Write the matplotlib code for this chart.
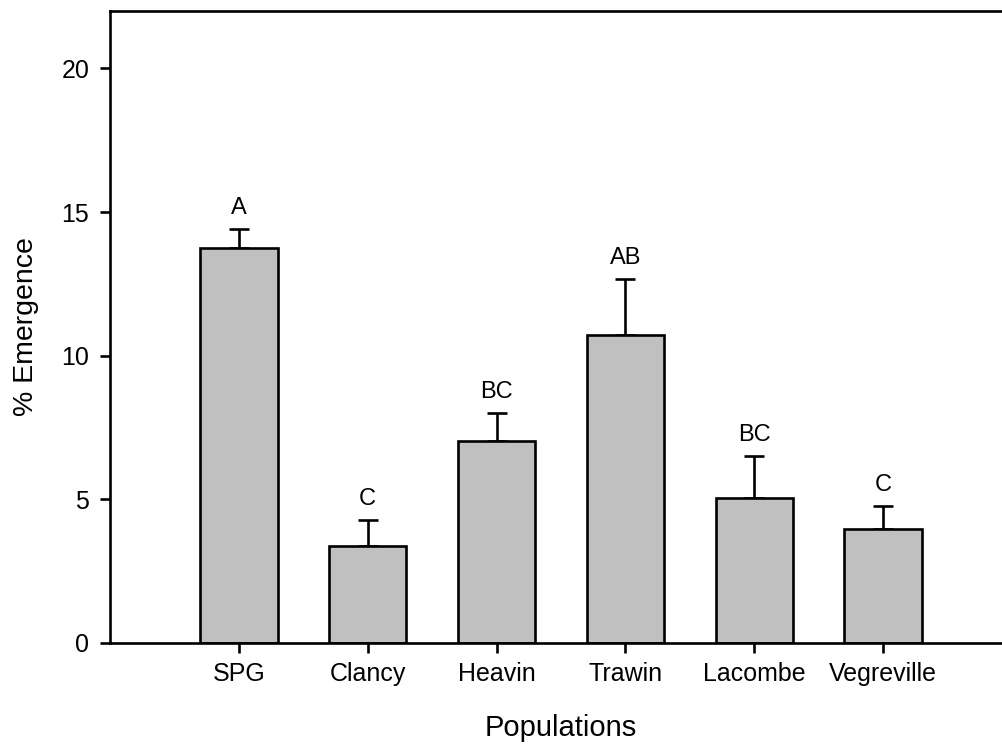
import matplotlib
matplotlib.use("Agg")
import matplotlib.pyplot as plt
import numpy as np

plt.rcParams["font.family"] = ["Liberation Sans", "DejaVu Sans"]

# mean % emergence per population with upper standard error
populations = ["SPG", "Clancy", "Heavin", "Trawin", "Lacombe", "Vegreville"]
emergence = [13.75, 3.38, 7.03, 10.72, 5.05, 3.97]
std_err = [0.66, 0.90, 0.97, 1.95, 1.46, 0.80]
groups = ["A", "C", "BC", "AB", "BC", "C"]

fig = plt.figure(figsize=(10.02, 7.54), dpi=100)
W, H = 1002.0, 754.0
# axes runs a little past the right edge of the figure
ax = fig.add_axes([110 / W, (H - 643) / H, (1012 - 110) / W, (643 - 11) / H])

lw = 1.9
x = np.arange(1, len(populations) + 1)
ax.bar(x, emergence, width=0.6, color="#c0c0c0", edgecolor="black",
       linewidth=lw, zorder=2)
ax.errorbar(x, emergence, yerr=[np.zeros(len(x)), std_err], fmt="none",
            ecolor="black", elinewidth=lw, capsize=7, capthick=lw, zorder=1)

for xi, m, e, g in zip(x, emergence, std_err, groups):
    ax.annotate(g, (xi, m + e), xytext=(0, 7), textcoords="offset points",
                ha="center", va="bottom", fontsize=17)

ax.set_xlim(0, 7)
ax.set_ylim(0, 22)
ax.set_yticks([0, 5, 10, 15, 20])
ax.set_xticks(x)
ax.set_xticklabels(populations)

for side in ["left", "bottom", "top"]:
    ax.spines[side].set_linewidth(lw)
ax.spines["right"].set_visible(False)
ax.tick_params(axis="both", direction="out", length=7, width=lw,
               labelsize=18)
ax.tick_params(axis="y", pad=8)
ax.tick_params(axis="x", pad=7)

ax.set_ylabel("% Emergence", fontsize=20.5, labelpad=16)
ax.set_xlabel("Populations", fontsize=21, labelpad=20)

fig.savefig("out.png", dpi=100)
